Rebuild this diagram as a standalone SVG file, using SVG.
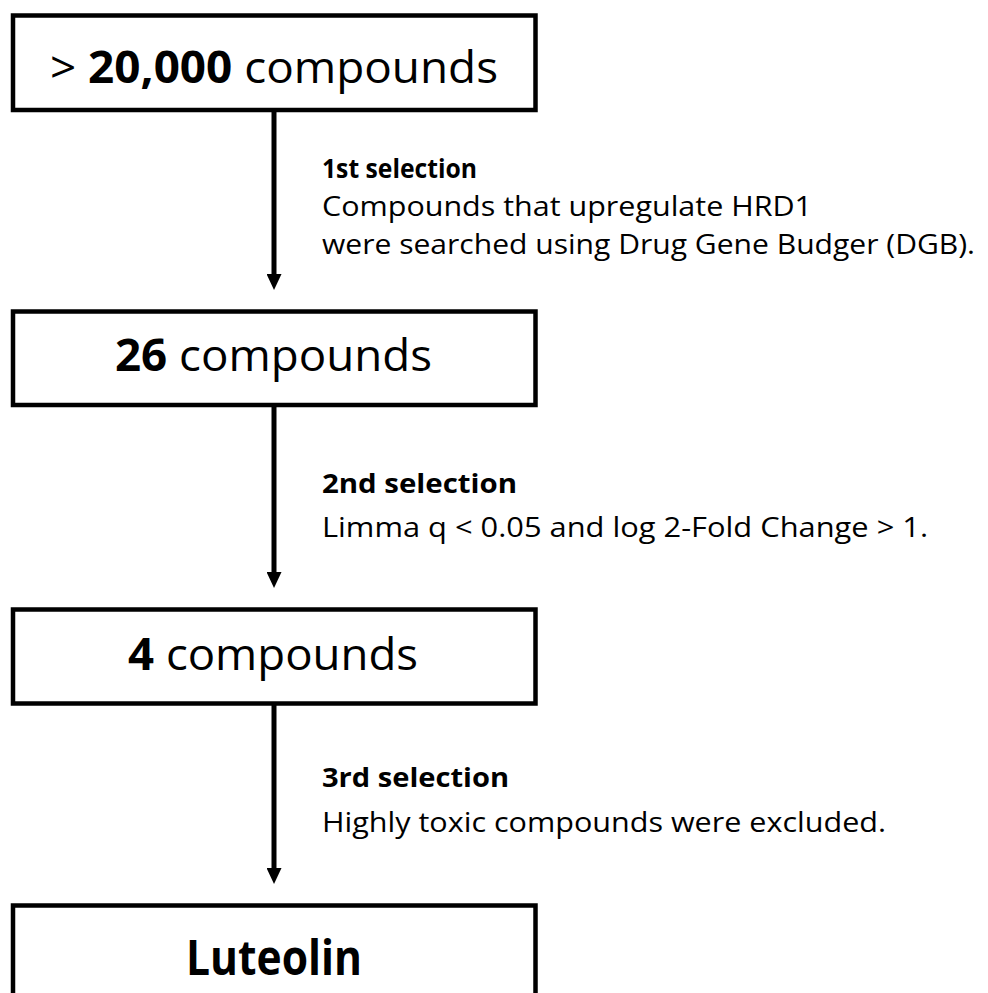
<svg xmlns="http://www.w3.org/2000/svg" width="988" height="993" viewBox="0 0 988 993">
<defs>
<style>
.box{fill:#fff;stroke:#000;stroke-width:4.5}
.big{font-family:"Open Sans","Noto Sans",sans-serif;font-size:44px;fill:#000}
.lab{font-family:"Open Sans","Noto Sans",sans-serif;font-size:27px;fill:#000}
.b{font-weight:bold}
.conn{stroke:#000;stroke-width:5;fill:none}
</style>
<marker id="ah" markerUnits="userSpaceOnUse" markerWidth="16" markerHeight="15" refX="6" refY="7.5" orient="auto">
<path d="M0,0 L16,7.5 L0,15 z" fill="#000"/>
</marker>
</defs>
<rect width="988" height="993" fill="#fff"/>
<g id="connectors">
<line class="conn" x1="274" y1="110" x2="274" y2="280" marker-end="url(#ah)"/>
<line class="conn" x1="274" y1="405" x2="274" y2="578" marker-end="url(#ah)"/>
<line class="conn" x1="274" y1="703.5" x2="274" y2="874" marker-end="url(#ah)"/>
</g>
<g id="node1">
<rect class="box" x="13" y="15.5" width="522.5" height="94.5"/>
<text class="big" x="50" y="83" textLength="448" lengthAdjust="spacingAndGlyphs">&gt; <tspan class="b">20,000</tspan> compounds</text>
</g>
<g id="node2">
<rect class="box" x="13" y="311.5" width="522.5" height="93.5"/>
<text class="big" x="115" y="371" textLength="317" lengthAdjust="spacingAndGlyphs"><tspan class="b">26</tspan> compounds</text>
</g>
<g id="node3">
<rect class="box" x="13" y="609.5" width="522.5" height="94"/>
<text class="big" x="128" y="670" textLength="290" lengthAdjust="spacingAndGlyphs"><tspan class="b">4</tspan> compounds</text>
</g>
<g id="node4">
<rect class="box" x="13" y="905.5" width="522.5" height="120"/>
<text class="big b" x="186" y="975" textLength="176" lengthAdjust="spacingAndGlyphs" style="font-size:48px">Luteolin</text>
</g>
<g id="label1">
<text class="lab b" x="322" y="178" textLength="155" lengthAdjust="spacingAndGlyphs">1st selection</text>
<text class="lab" x="322" y="216" textLength="490" lengthAdjust="spacingAndGlyphs">Compounds that upregulate HRD1</text>
<text class="lab" x="322" y="254" textLength="653" lengthAdjust="spacingAndGlyphs">were searched using Drug Gene Budger (DGB).</text>
</g>
<g id="label2">
<text class="lab b" x="322" y="493" textLength="195" lengthAdjust="spacingAndGlyphs">2nd selection</text>
<text class="lab" x="322" y="537" textLength="606" lengthAdjust="spacingAndGlyphs">Limma q &lt; 0.05 and log 2-Fold Change &gt; 1.</text>
</g>
<g id="label3">
<text class="lab b" x="322" y="787" textLength="187" lengthAdjust="spacingAndGlyphs">3rd selection</text>
<text class="lab" x="322" y="832" textLength="564" lengthAdjust="spacingAndGlyphs">Highly toxic compounds were excluded.</text>
</g>
</svg>
